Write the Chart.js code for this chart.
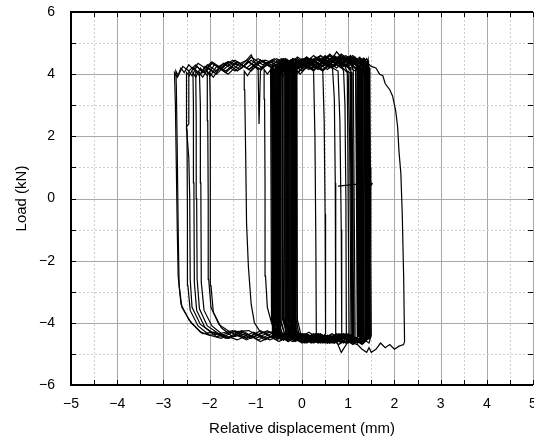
<!DOCTYPE html>
<html>
<head>
<meta charset="utf-8">
<script src="https://cdn.jsdelivr.net/npm/chart.js@4"></script>
<style>
  html, body { margin: 0; padding: 0; background: #fff; overflow: hidden; }
  #wrap { width: 545px; height: 440px; position: relative; }
</style>
</head>
<body>
<div id="wrap"><canvas id="chart"></canvas></div>
<script>
// Axis ticks
const xTickValues = [-5, -4, -3, -2, -1, 0, 1, 2, 3, 4, 5];
const yTickValues = [-6, -4, -2, 0, 2, 4, 6];

// Hysteresis loops, flat [x, y, x, y, ...] pairs (mm, kN)
const loopOuter = [
    -2.2,-4.3, -2.45,-3.9, -2.62,-3.4, -2.68,-2.5, -2.7,-1.0, -2.72,1.0, -2.74,3.0, -2.76,4.05,
    -2.7,3.9, -2.62,4.2, -2.55,4.05, -2.45,4.3, -2.35,4.15, -2.25,4.35, -2.1,4.2, -1.95,4.4,
    -1.8,4.25, -1.6,4.4, -1.4,4.3, -1.2,4.45, -1.1,4.62, -1.0,4.3, -0.8,4.45, -0.6,4.35, -0.4,4.5,
    -0.2,4.35, 0,4.45, 0.2,4.3, 0.4,4.5, 0.6,4.4, 0.75,4.72, 0.9,4.45, 1.05,4.55, 1.2,4.4,
    1.35,4.45, 1.5,4.25, 1.6,4.2, 1.68,4.0, 1.75,3.95, 1.8,3.7, 1.9,3.5, 1.96,3.3, 2.03,2.8,
    2.07,2.3, 2.1,1.5, 2.14,0.8, 2.17,-0.5, 2.2,-2.5, 2.22,-4.6, 2.2,-4.7, 2.1,-4.75, 2.0,-4.85,
    1.9,-4.7, 1.8,-4.8, 1.7,-4.65, 1.6,-4.85, 1.5,-4.95, 1.45,-4.8, 1.4,-4.95, 1.3,-4.85,
    1.2,-4.7, 1.0,-4.6, 0.85,-4.95, 0.75,-4.6, 0.6,-4.55, 0.4,-4.6, 0.2,-4.5, 0,-4.55, -0.2,-4.45,
    -0.4,-4.55, -0.6,-4.4, -0.8,-4.5, -1.0,-4.35, -1.2,-4.5, -1.4,-4.4, -1.6,-4.5, -1.8,-4.35,
    -2.0,-4.4, -2.2,-4.3
];
const loopB = [
    -2.15,-4.35, -2.4,-4.0, -2.6,-3.5, -2.66,-2.8, -2.68,-1.0, -2.7,1.5, -2.72,3.6, -2.73,4.1,
    -2.68,3.95, -2.58,4.25, -2.45,4.1, -2.3,4.3, -2.15,4.05, -1.95,4.35, -1.75,4.2, -1.5,4.45,
    -1.3,4.2, -1.1,4.55, -0.85,4.3, -0.6,4.5, -0.35,4.2, -0.1,4.55, 0.15,4.3, 0.4,4.6,
    0.65,4.25, 0.9,4.6, 1.1,4.3, 1.3,4.5, 1.42,4.2, 1.46,3.5, 1.48,1.0, 1.49,-2.0, 1.5,-4.4,
    1.45,-4.65, 1.3,-4.5, 1.1,-4.7, 0.85,-4.45, 0.6,-4.65, 0.35,-4.45, 0.1,-4.6, -0.15,-4.35,
    -0.4,-4.55, -0.7,-4.3, -1.0,-4.5, -1.3,-4.3, -1.6,-4.5, -1.9,-4.3, -2.15,-4.35
];
const loopC = [
    -2.0,-4.4, -2.25,-4.1, -2.42,-3.6, -2.47,-2.8, -2.48,-0.5, -2.49,2.2, -2.5,4.05, -2.44,3.95,
    -2.35,4.2, -2.2,4.0, -2.05,4.3, -1.85,4.1, -1.6,4.4, -1.35,4.15, -1.1,4.45, -0.85,4.2,
    -0.55,4.5, -0.25,4.25, 0.05,4.5, 0.35,4.2, 0.6,4.6, 0.85,4.3, 1.1,4.55, 1.3,4.3, 1.37,3.8,
    1.39,0.5, 1.41,-4.3, 1.3,-4.6, 1.05,-4.4, 0.8,-4.7, 0.5,-4.4, 0.2,-4.6, -0.1,-4.3,
    -0.4,-4.55, -0.75,-4.25, -1.1,-4.5, -1.45,-4.25, -1.75,-4.5, -2.0,-4.4
];
const loopD = [
    -1.95,-4.3, -2.2,-4.05, -2.38,-3.5, -2.42,-2.6, -2.43,0, -2.45,1.3, -2.5,2.3, -2.45,2.4, -2.45,4.1, -2.38,3.95,
    -2.28,4.25, -2.12,4.05, -1.95,4.35, -1.7,4.15, -1.45,4.45, -1.2,4.2, -0.95,4.5, -0.7,4.25,
    -0.45,4.5, -0.2,4.25, 0.1,4.55, 0.35,4.3, 0.6,4.65, 0.8,4.4, 0.9,4.1, 0.93,3.0, 0.95,0,
    0.96,-4.35, 0.85,-4.6, 0.6,-4.4, 0.3,-4.6, 0,-4.35, -0.3,-4.55, -0.6,-4.3, -0.95,-4.55,
    -1.3,-4.25, -1.65,-4.5, -1.95,-4.3
];
const loopE = [
    -1.85,-4.45, -2.1,-4.15, -2.28,-3.6, -2.33,-2.7, -2.34,0.5, -2.35,3.0, -2.36,4.05, -2.3,3.9,
    -2.2,4.2, -2.05,3.95, -1.9,4.3, -1.65,4.1, -1.4,4.4, -1.15,4.15, -0.9,4.45, -0.65,4.2,
    -0.4,4.45, -0.15,4.25, 0.15,4.5, 0.45,4.25, 0.7,4.55, 0.95,4.3, 1.15,4.45, 1.26,4.1, 1.28,2.0,
    1.3,-1.5, 1.31,-4.4, 1.2,-4.65, 0.95,-4.4, 0.7,-4.65, 0.4,-4.4, 0.1,-4.65, -0.2,-4.35,
    -0.5,-4.6, -0.85,-4.3, -1.2,-4.55, -1.55,-4.3, -1.85,-4.45
];
const loopF = [
    -1.8,-4.35, -2.05,-4.1, -2.22,-3.55, -2.27,-2.6, -2.28,0, -2.29,2.5, -2.3,4.1, -2.22,3.95,
    -2.1,4.25, -1.9,4.05, -1.7,4.35, -1.45,4.1, -1.2,4.45, -0.95,4.15, -0.7,4.4, -0.45,4.2,
    -0.2,4.5, 0.05,4.25, 0.3,4.55, 0.5,4.3, 0.66,4.2, 0.7,3.2, 0.72,0.5, 0.73,-4.4, 0.6,-4.6,
    0.35,-4.35, 0.05,-4.6, -0.25,-4.35, -0.55,-4.55, -0.9,-4.25, -1.2,-4.5, -1.5,-4.25, -1.8,-4.35
];
const loopG = [
    -1.7,-4.4, -1.95,-4.1, -2.12,-3.6, -2.18,-2.7, -2.19,0.5, -2.2,3.0, -2.22,4.05, -2.15,3.9,
    -2.02,4.2, -1.85,4.0, -1.62,4.35, -1.4,4.1, -1.15,4.4, -0.9,4.15, -0.65,4.45, -0.4,4.25,
    -0.15,4.5, 0.1,4.25, 0.35,4.55, 0.6,4.3, 0.85,4.6, 1.05,4.35, 1.16,4.2, 1.18,2.5, 1.2,-1.0,
    1.21,-4.45, 1.1,-4.65, 0.85,-4.4, 0.55,-4.65, 0.25,-4.4, -0.05,-4.6, -0.35,-4.35, -0.7,-4.55,
    -1.05,-4.3, -1.4,-4.55, -1.7,-4.4
];
const loopH = [
    -1.55,-4.3, -1.8,-4.05, -1.97,-3.5, -2.02,-2.6, -2.03,0, -2.04,2.5, -2.05,4.1, -1.98,3.95,
    -1.85,4.25, -1.65,4.05, -1.4,4.4, -1.15,4.15, -0.9,4.45, -0.65,4.2, -0.4,4.5, -0.15,4.25,
    0.1,4.5, 0.3,4.25, 0.45,4.1, 0.48,2.5, 0.5,-0.5, 0.51,-4.35, 0.4,-4.55, 0.15,-4.3,
    -0.15,-4.55, -0.45,-4.3, -0.8,-4.55, -1.15,-4.25, -1.55,-4.3
];
const loopI = [
    -1.5,-4.45, -1.75,-4.15, -1.92,-3.65, -1.97,-2.8, -1.98,0.5, -1.99,3.0, -2.0,4.05, -1.92,3.9,
    -1.78,4.2, -1.6,4.0, -1.35,4.35, -1.1,4.1, -0.85,4.45, -0.6,4.15, -0.35,4.45, -0.1,4.2,
    0.2,4.5, 0.45,4.25, 0.7,4.55, 0.9,4.35, 1.0,4.0, 1.03,2.0, 1.05,-2.0, 1.06,-4.4, 0.95,-4.65,
    0.7,-4.4, 0.4,-4.65, 0.1,-4.4, -0.2,-4.6, -0.55,-4.35, -0.9,-4.6, -1.2,-4.35, -1.5,-4.45
];
const loopJ = [
    -0.9,-4.3, -1.03,-4.0, -1.1,-3.4, -1.16,-2.2, -1.2,-0.8, -1.22,1.5, -1.24,3.5, -1.25,4.1,
    -1.18,3.95, -1.05,4.25, -0.95,4.2, -0.93,2.4, -0.9,4.1, -0.75,4.35, -0.5,4.2, -0.25,4.45,
    0.0,4.2, 0.12,4.35, 0.25,4.1, 0.28,2.0, 0.3,-1.5, 0.31,-4.4, 0.2,-4.6, -0.05,-4.35,
    -0.3,-4.6, -0.6,-4.3, -0.9,-4.3
];
const loopK = [
    -0.5,-4.35, -0.65,-4.05, -0.75,-3.5, -0.79,-2.5, -0.8,0.5, -0.81,3.2, -0.82,4.15, -0.75,4.0,
    -0.6,4.3, -0.4,4.1, -0.15,4.45, 0.1,4.2, 0.35,4.5, 0.6,4.25, 0.78,4.1, 0.82,2.5, 0.85,-1.0,
    0.86,-4.45, 0.7,-4.65, 0.45,-4.4, 0.2,-4.65, -0.1,-4.4, -0.3,-4.6, -0.5,-4.35
];
// Many cycles, left edges around -0.7..-0.1, right edges around 1.0..1.5
const denseCycles = [
    -0.55,-4.4, -0.66,-3.9, -0.68,4.15, -0.6,4.0, -0.4,4.45, -0.15,4.1, 0.1,4.55, 0.35,4.2, 0.6,4.6, 0.85,4.25, 0.98,4.05, 1.02,-4.4, 0.85,-4.65, 0.55,-4.4, 0.25,-4.65, -0.05,-4.35, -0.3,-4.6,
    -0.5,-4.35, -0.62,-3.85, -0.64,4.2, -0.55,4.05, -0.35,4.5, -0.05,4.2, 0.25,4.6, 0.55,4.25, 0.85,4.65, 1.15,4.3, 1.35,4.5, 1.44,4.1, 1.48,-4.45, 1.3,-4.7, 1.0,-4.4, 0.7,-4.65, 0.4,-4.4, 0.1,-4.6, -0.2,-4.35, -0.4,-4.55,
    -0.48,-4.5, -0.58,-3.9, -0.6,4.1, -0.5,3.95, -0.3,4.4, 0.0,4.1, 0.3,4.5, 0.6,4.2, 0.9,4.55, 1.06,4.1, 1.1,-4.5, 0.9,-4.35, 0.6,-4.65, 0.3,-4.35, 0.0,-4.6, -0.3,-4.35,
    -0.45,-4.45, -0.55,-3.95, -0.57,4.15, -0.48,3.95, -0.25,4.45, 0.05,4.15, 0.35,4.55, 0.65,4.2, 0.95,4.6, 1.2,4.25, 1.38,4.05, 1.42,-4.4, 1.25,-4.65, 0.95,-4.4, 0.65,-4.65, 0.35,-4.4, 0.05,-4.65, -0.25,-4.35,
    -0.42,-4.4, -0.52,-3.85, -0.54,4.2, -0.45,4.05, -0.2,4.5, 0.1,4.2, 0.4,4.6, 0.7,4.25, 1.0,4.55, 1.2,4.3, 1.31,4.1, 1.35,-4.5, 1.15,-4.6, 0.85,-4.35, 0.55,-4.65, 0.25,-4.4, -0.05,-4.6, -0.3,-4.35,
    -0.38,-4.35, -0.48,-3.9, -0.5,4.1, -0.4,3.95, -0.15,4.4, 0.15,4.15, 0.45,4.5, 0.75,4.2, 1.0,4.55, 1.11,4.15, 1.15,-4.45, 0.95,-4.65, 0.65,-4.35, 0.35,-4.6, 0.05,-4.35, -0.25,-4.55,
    -0.35,-4.5, -0.45,-3.95, -0.47,4.2, -0.38,4.05, -0.1,4.45, 0.2,4.15, 0.5,4.6, 0.8,4.25, 1.1,4.6, 1.3,4.3, 1.41,4.1, 1.45,-4.45, 1.3,-4.65, 1.0,-4.4, 0.7,-4.65, 0.4,-4.35, 0.1,-4.6, -0.2,-4.4,
    -0.32,-4.4, -0.42,-3.9, -0.44,4.15, -0.35,4.0, -0.1,4.5, 0.2,4.2, 0.5,4.55, 0.8,4.25, 1.05,4.6, 1.21,4.15, 1.25,-4.4, 1.05,-4.6, 0.75,-4.35, 0.45,-4.65, 0.15,-4.4, -0.15,-4.6,
    -0.3,-4.45, -0.4,-3.85, -0.42,4.2, -0.32,4.05, -0.05,4.4, 0.25,4.1, 0.55,4.55, 0.85,4.2, 1.1,4.5, 1.34,4.1, 1.38,-4.5, 1.2,-4.6, 0.9,-4.35, 0.6,-4.6, 0.3,-4.35, 0.0,-4.65, -0.25,-4.4,
    -0.27,-4.4, -0.37,-3.9, -0.39,4.1, -0.3,3.95, -0.05,4.45, 0.25,4.15, 0.55,4.5, 0.85,4.2, 1.04,4.05, 1.08,-4.45, 0.9,-4.65, 0.6,-4.4, 0.3,-4.6, 0.0,-4.35, -0.2,-4.55,
    -0.25,-4.35, -0.34,-3.95, -0.36,4.15, -0.27,4.0, 0.0,4.5, 0.3,4.2, 0.6,4.6, 0.9,4.25, 1.15,4.55, 1.4,4.15, 1.44,-4.4, 1.25,-4.65, 0.95,-4.35, 0.65,-4.6, 0.35,-4.35, 0.05,-4.6, -0.2,-4.35,
    -0.22,-4.45, -0.31,-3.9, -0.33,4.2, -0.24,4.05, 0.05,4.4, 0.35,4.15, 0.65,4.55, 0.95,4.25, 1.15,4.5, 1.26,4.1, 1.3,-4.45, 1.1,-4.6, 0.8,-4.35, 0.5,-4.65, 0.2,-4.4, -0.1,-4.55,
    -0.2,-4.4, -0.28,-3.85, -0.3,4.15, -0.22,4.0, 0.05,4.45, 0.35,4.15, 0.65,4.5, 0.95,4.25, 1.16,4.1, 1.2,-4.5, 1.0,-4.65, 0.7,-4.4, 0.4,-4.6, 0.1,-4.35, -0.15,-4.55,
    -0.16,-4.45, -0.25,-3.9, -0.27,4.2, -0.18,4.05, 0.1,4.5, 0.4,4.2, 0.7,4.6, 1.0,4.25, 1.25,4.55, 1.43,4.15, 1.47,-4.4, 1.3,-4.6, 1.0,-4.35, 0.7,-4.65, 0.4,-4.4, 0.1,-4.6, -0.1,-4.35,
    -0.13,-4.4, -0.22,-3.95, -0.24,4.1, -0.15,3.95, 0.15,4.45, 0.45,4.15, 0.75,4.55, 1.05,4.2, 1.25,4.5, 1.36,4.1, 1.4,-4.45, 1.2,-4.65, 0.9,-4.4, 0.6,-4.6, 0.3,-4.35, 0.0,-4.55,
    -0.1,-4.35, -0.18,-3.9, -0.2,4.15, -0.12,4.0, 0.15,4.4, 0.45,4.1, 0.75,4.5, 1.0,4.2, 1.08,4.05, 1.12,-4.4, 0.95,-4.6, 0.65,-4.35, 0.35,-4.65, 0.05,-4.45,
    -0.05,-4.45, -0.14,-3.85, -0.16,4.2, -0.08,4.05, 0.2,4.5, 0.5,4.2, 0.8,4.55, 1.1,4.25, 1.29,4.1, 1.33,-4.45, 1.15,-4.65, 0.85,-4.4, 0.55,-4.6, 0.25,-4.35, 0.0,-4.55,
    -0.02,-4.4, -0.1,-3.9, -0.12,4.15, -0.04,4.0, 0.25,4.45, 0.55,4.15, 0.85,4.55, 1.1,4.25, 1.24,4.05, 1.28,-4.4
];
// Narrow cycles that fill the dark band between -0.7 and -0.1
const narrowLeft = [
    -0.64,-4.4, -0.66,4.2, -0.45,4.4, -0.15,4.25, -0.14,-4.45, -0.4,-4.35,
    -0.61,-4.5, -0.63,4.3, -0.4,4.15, -0.18,4.4, -0.17,-4.4, -0.45,-4.55,
    -0.59,-4.35, -0.61,4.1, -0.35,4.35, -0.21,4.2, -0.2,-4.5, -0.4,-4.4,
    -0.57,-4.45, -0.58,4.25, -0.4,4.45, -0.23,4.3, -0.22,-4.35, -0.45,-4.5,
    -0.54,-4.4, -0.56,4.2, -0.4,4.3, -0.26,4.15, -0.25,-4.45, -0.42,-4.35,
    -0.52,-4.5, -0.53,4.35, -0.38,4.2, -0.29,4.4, -0.28,-4.4, -0.4,-4.55,
    -0.5,-4.35, -0.51,4.15, -0.35,4.4, -0.31,4.25, -0.3,-4.5, -0.42,-4.4,
    -0.48,-4.45, -0.49,4.3, -0.4,4.15, -0.34,4.35, -0.33,-4.4, -0.44,-4.5,
    -0.46,-4.4, -0.47,4.2, -0.41,4.4, -0.37,4.2, -0.36,-4.45, -0.43,-4.35,
    -0.62,-4.45, -0.65,4.25, -0.4,4.4, -0.12,4.2, -0.11,-4.4, -0.5,-4.5,
    -0.6,-4.35, -0.62,4.15, -0.35,4.3, -0.16,4.35, -0.15,-4.5, -0.45,-4.4,
    -0.55,-4.5, -0.57,4.3, -0.4,4.2, -0.2,4.45, -0.19,-4.45
];
// Narrow cycles that fill the dark band between 1.2 and 1.5
const narrowRight = [
    1.2,-4.45, 1.19,4.3, 1.35,4.5, 1.46,4.2, 1.47,-4.5, 1.3,-4.6,
    1.23,-4.4, 1.22,4.2, 1.3,4.45, 1.43,4.3, 1.44,-4.45, 1.32,-4.55,
    1.26,-4.5, 1.25,4.35, 1.35,4.2, 1.41,4.4, 1.42,-4.4, 1.33,-4.65,
    1.28,-4.45, 1.27,4.25, 1.33,4.5, 1.39,4.25, 1.4,-4.5, 1.3,-4.6,
    1.22,-4.4, 1.21,4.2, 1.3,4.4, 1.37,4.15, 1.38,-4.45, 1.28,-4.55,
    1.31,-4.5, 1.3,4.3, 1.4,4.5, 1.45,4.25, 1.46,-4.4, 1.35,-4.6,
    1.24,-4.45, 1.23,4.25, 1.32,4.4, 1.36,4.2, 1.37,-4.5, 1.29,-4.55,
    1.33,-4.4, 1.32,4.35, 1.38,4.15, 1.43,4.45, 1.44,-4.45
];
// Small arrow drawn inside the plot
const arrowLine = [0.78,0.4, 1.48,0.5];
const arrowHead = [1.4,0.6, 1.52,0.48, 1.45,0.32];

const allLoops = [loopOuter, loopB, loopC, loopD, loopE, loopF, loopG, loopH, loopI, loopJ, loopK, denseCycles, narrowLeft, narrowRight, arrowLine, arrowHead];

function toPoints(flat) {
    const pts = [];
    for (let i = 0; i < flat.length; i += 2) {
        pts.push({ x: flat[i], y: flat[i + 1] });
    }
    return pts;
}

function fmt(v) {
    return v < 0 ? '\u2212' + Math.abs(v) : String(v);
}

// grid, inward ticks and frame drawn by hand so the minor dotted lines match
const framePlugin = {
    id: 'frame',
    beforeDatasetsDraw(chart) {
        const { ctx, chartArea: a, scales: { x, y } } = chart;
        ctx.save();
        ctx.lineWidth = 1;
        for (let v = -5; v <= 5.001; v += 0.5) {
            const px = Math.round(x.getPixelForValue(v)) + 0.5;
            const major = Math.abs(v - Math.round(v)) < 1e-6;
            ctx.strokeStyle = major ? '#a8a8a8' : '#cfcfcf';
            ctx.setLineDash(major ? [] : [2, 2]);
            ctx.beginPath(); ctx.moveTo(px, a.top); ctx.lineTo(px, a.bottom); ctx.stroke();
        }
        for (let v = -6; v <= 6; v += 1) {
            const py = Math.round(y.getPixelForValue(v)) + 0.5;
            const major = v % 2 === 0;
            ctx.strokeStyle = major ? '#a8a8a8' : '#cfcfcf';
            ctx.setLineDash(major ? [] : [2, 2]);
            ctx.beginPath(); ctx.moveTo(a.left, py); ctx.lineTo(a.right, py); ctx.stroke();
        }
        ctx.restore();
    },
    afterDatasetsDraw(chart) {
        const { ctx, chartArea: a, scales: { x, y } } = chart;
        ctx.save();
        ctx.setLineDash([]);
        ctx.strokeStyle = '#000';
        ctx.lineWidth = 1;
        for (let v = -5; v <= 5.001; v += 0.5) {
            const px = Math.round(x.getPixelForValue(v)) + 0.5;
            ctx.beginPath();
            ctx.moveTo(px, a.bottom); ctx.lineTo(px, a.bottom - 5);
            ctx.moveTo(px, a.top); ctx.lineTo(px, a.top + 5);
            ctx.stroke();
        }
        for (let v = -6; v <= 6; v += 1) {
            const py = Math.round(y.getPixelForValue(v)) + 0.5;
            ctx.beginPath();
            ctx.moveTo(a.left, py); ctx.lineTo(a.left + 5, py);
            ctx.moveTo(a.right, py); ctx.lineTo(a.right - 5, py);
            ctx.stroke();
        }
        ctx.lineWidth = 2;
        ctx.beginPath();
        ctx.moveTo(a.right, a.top); ctx.lineTo(a.left, a.top);
        ctx.lineTo(a.left, a.bottom); ctx.lineTo(a.right, a.bottom);
        ctx.stroke();
        ctx.restore();
    }
};

const ctx = document.getElementById('chart').getContext('2d');
new Chart(ctx, {
    type: 'scatter',
    data: {
        datasets: allLoops.map(loop => ({
            data: toPoints(loop),
            showLine: true,
            borderColor: '#000',
            borderWidth: 1.2,
            pointRadius: 0,
            tension: 0,
            fill: false
        }))
    },
    options: {
        responsive: true,
        maintainAspectRatio: false,
        animation: false,
        layout: { padding: { top: 12, right: 12, left: 0, bottom: 0 } },
        plugins: { legend: { display: false }, tooltip: { enabled: false } },
        scales: {
            x: {
                type: 'linear',
                min: -5,
                max: 5,
                grid: { display: false },
                border: { display: false },
                afterBuildTicks: s => { s.ticks = xTickValues.map(v => ({ value: v })); },
                afterFit: s => { s.height = 55; s.paddingLeft = 0; s.paddingRight = 0; },
                ticks: {
                    color: '#000',
                    padding: 3,
                    maxRotation: 0,
                    font: { family: 'Liberation Sans', size: 14 },
                    callback: v => fmt(v)
                },
                title: {
                    display: true,
                    text: 'Relative displacement (mm)',
                    color: '#000',
                    font: { family: 'Liberation Sans', size: 15 },
                    padding: { top: 0, bottom: 2 }
                }
            },
            y: {
                type: 'linear',
                min: -6,
                max: 6,
                grid: { display: false },
                border: { display: false },
                afterBuildTicks: s => { s.ticks = yTickValues.map(v => ({ value: v })); },
                afterFit: s => { s.width = 71; s.paddingTop = 0; s.paddingBottom = 0; },
                ticks: {
                    color: '#000',
                    padding: 8,
                    font: { family: 'Liberation Sans', size: 14 },
                    callback: v => fmt(v)
                },
                title: {
                    display: true,
                    text: 'Load (kN)',
                    color: '#000',
                    font: { family: 'Liberation Sans', size: 15 },
                    padding: { top: 13, bottom: 0 }
                }
            }
        }
    },
    plugins: [framePlugin]
});
</script>
</body>
</html>
